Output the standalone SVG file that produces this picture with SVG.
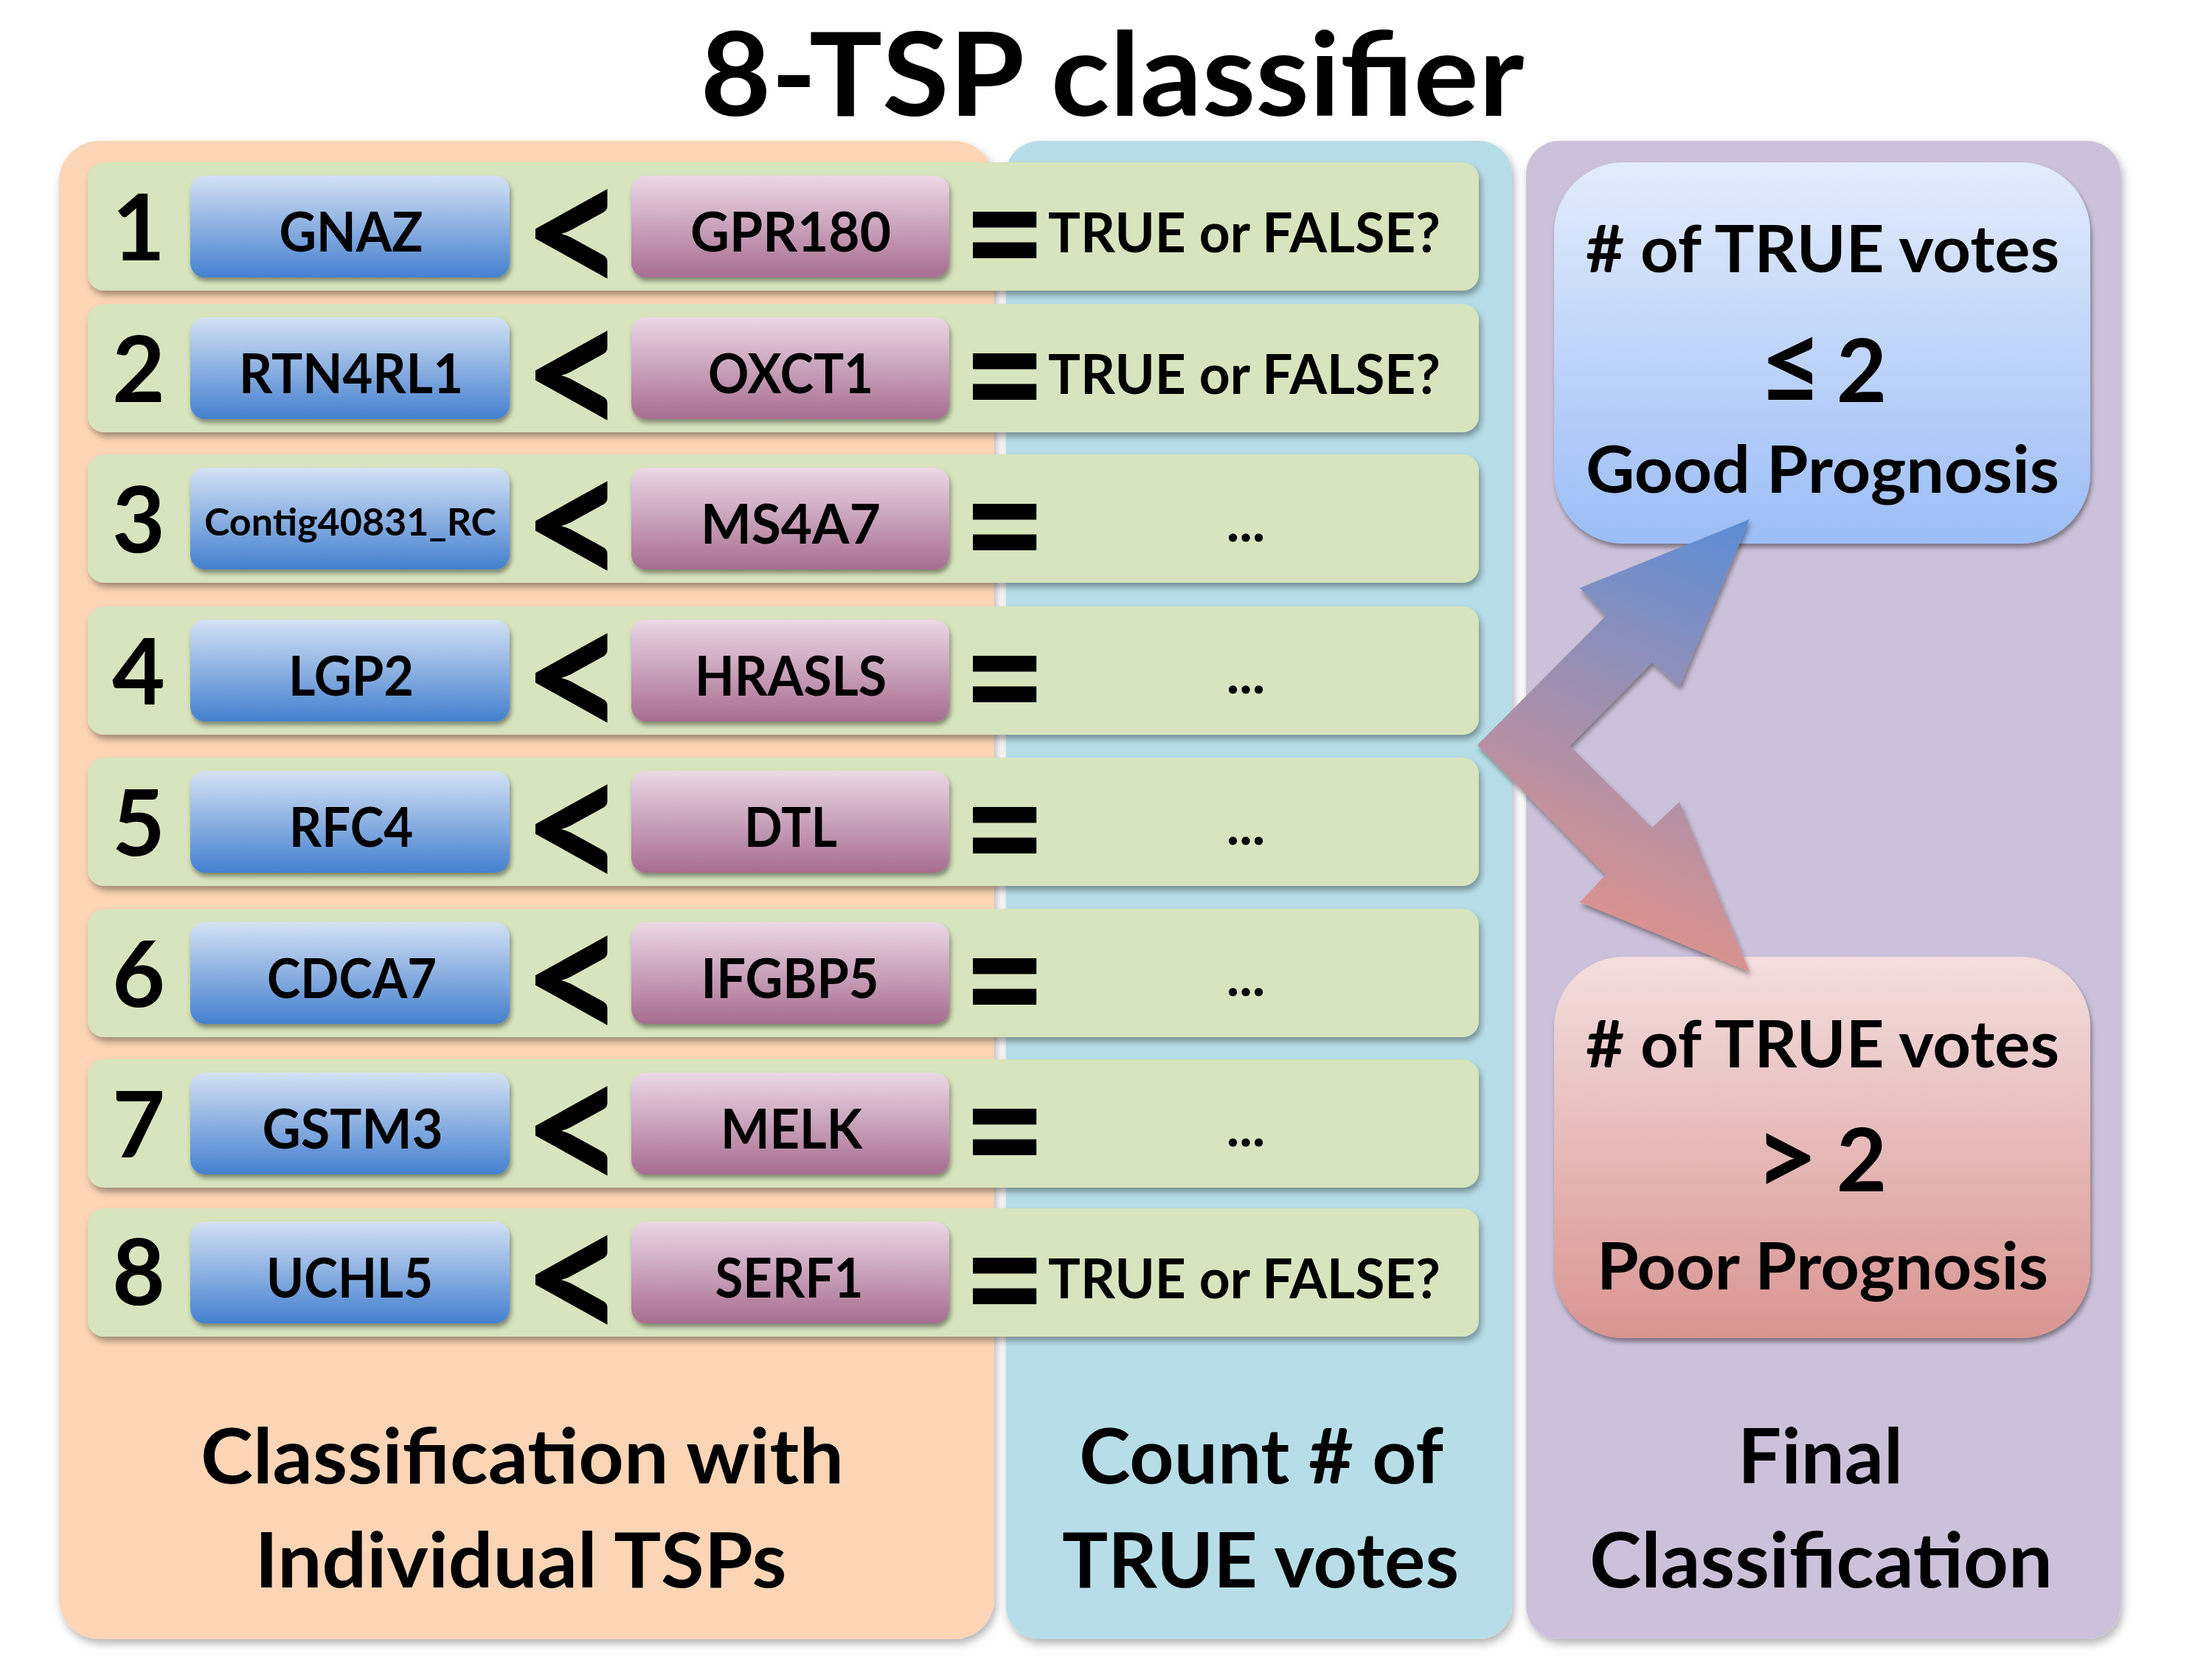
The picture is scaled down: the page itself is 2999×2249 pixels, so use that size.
<svg xmlns="http://www.w3.org/2000/svg" width="2999" height="2249" viewBox="0 0 2999 2249">
<defs>
<style>
.t{font-family:Lato,"Liberation Sans","DejaVu Sans",sans-serif;font-weight:700;fill:#000;text-anchor:middle}
.num{font-size:124px}
.gene{font-size:74px}
.res{font-size:74px}
.lt{font-size:200px}
.eq{font-size:180px}
.box{font-size:88px}
.big{font-size:118px}
.sym{font-size:150px}
.lab{font-size:103px}
.row{fill:#D7E4BD;filter:url(#sh)}
.gb{fill:url(#gBlue);filter:url(#sh2)}
.gp{fill:url(#gPur);filter:url(#sh2)}
</style>
<linearGradient id="gBlue" x1="0" y1="0" x2="0" y2="1">
<stop offset="0" stop-color="#D4E1F4"/><stop offset="1" stop-color="#4480CF"/>
</linearGradient>
<linearGradient id="gPur" x1="0" y1="0" x2="0" y2="1">
<stop offset="0" stop-color="#EBD8E4"/><stop offset="1" stop-color="#A76D90"/>
</linearGradient>
<linearGradient id="gGood" x1="0" y1="0" x2="0" y2="1">
<stop offset="0" stop-color="#E3ECFC"/><stop offset="1" stop-color="#9CBDF6"/>
</linearGradient>
<linearGradient id="gPoor" x1="0" y1="0" x2="0" y2="1">
<stop offset="0" stop-color="#F3DEDE"/><stop offset="1" stop-color="#D99592"/>
</linearGradient>
<linearGradient id="gArrow" gradientUnits="userSpaceOnUse" x1="2150" y1="1235" x2="2372" y2="704">
<stop offset="0" stop-color="#DA928F"/><stop offset="1" stop-color="#5A8DD6"/>
</linearGradient>
<filter id="sh" x="-5%" y="-10%" width="110%" height="130%">
<feDropShadow dx="3" dy="6" stdDeviation="4" flood-color="#000" flood-opacity="0.35"/>
</filter>
<filter id="sh2" x="-5%" y="-10%" width="115%" height="130%">
<feDropShadow dx="2" dy="5" stdDeviation="3" flood-color="#000" flood-opacity="0.4"/>
</filter>
<filter id="shp" x="-5%" y="-5%" width="110%" height="110%">
<feDropShadow dx="3" dy="6" stdDeviation="6" flood-color="#000" flood-opacity="0.3"/>
</filter>
</defs>
<rect width="2999" height="2249" fill="#fff"/>
<text class="t" x="1508" y="157" font-size="158" textLength="1117" lengthAdjust="spacingAndGlyphs">8-TSP classifier</text>

<g id="panel-tsp">
<rect x="80" y="191" width="1268" height="2031" rx="55" fill="#FBD5B5" filter="url(#shp)"/>
<text class="t lab" x="708" y="2011" textLength="872" lengthAdjust="spacingAndGlyphs">Classification with</text>
<text class="t lab" x="706" y="2152" textLength="721" lengthAdjust="spacingAndGlyphs">Individual TSPs</text>
</g>
<g id="panel-count">
<rect x="1364" y="191" width="686" height="2031" rx="45" fill="#B7DEE8" filter="url(#shp)"/>
<text class="t lab" x="1710" y="2011" textLength="494" lengthAdjust="spacingAndGlyphs">Count # of</text>
<text class="t lab" x="1709" y="2152" textLength="538" lengthAdjust="spacingAndGlyphs">TRUE votes</text>
</g>
<g id="panel-final">
<rect x="2069" y="191" width="806" height="2031" rx="45" fill="#CCC1DA" filter="url(#shp)"/>
<text class="t lab" x="2468" y="2011" textLength="224" lengthAdjust="spacingAndGlyphs">Final</text>
<text class="t lab" x="2469" y="2152" textLength="628" lengthAdjust="spacingAndGlyphs">Classification</text>
</g>

<g id="tsp1">
<rect class="row" x="119" y="220" width="1886" height="174" rx="22"/>
<text class="t num" x="188" y="353">1</text>
<rect class="gb" x="258" y="238" width="433" height="138" rx="20"/>
<text class="t gene" x="476" y="341" textLength="195" lengthAdjust="spacingAndGlyphs">GNAZ</text>
<text class="t lt" transform="translate(775,320) scale(1.23,1.31)" x="3" y="65">&lt;</text>
<rect class="gp" x="856" y="238" width="431" height="138" rx="20"/>
<text class="t gene" x="1072" y="341" textLength="272" lengthAdjust="spacingAndGlyphs">GPR180</text>
<text class="t eq" transform="translate(1361,316) scale(1.08,1.3)" x="1" y="62">=</text>
<text class="t res" x="1687" y="342" textLength="532" lengthAdjust="spacingAndGlyphs">TRUE or FALSE?</text>
</g>
<g id="tsp2">
<rect class="row" x="119" y="412" width="1886" height="174" rx="22"/>
<text class="t num" x="188" y="545">2</text>
<rect class="gb" x="258" y="430" width="433" height="138" rx="20"/>
<text class="t gene" x="476" y="533" textLength="304" lengthAdjust="spacingAndGlyphs">RTN4RL1</text>
<text class="t lt" transform="translate(775,512) scale(1.23,1.31)" x="3" y="65">&lt;</text>
<rect class="gp" x="856" y="430" width="431" height="138" rx="20"/>
<text class="t gene" x="1072" y="533" textLength="224" lengthAdjust="spacingAndGlyphs">OXCT1</text>
<text class="t eq" transform="translate(1361,508) scale(1.08,1.3)" x="1" y="62">=</text>
<text class="t res" x="1687" y="534" textLength="532" lengthAdjust="spacingAndGlyphs">TRUE or FALSE?</text>
</g>
<g id="tsp3">
<rect class="row" x="119" y="616" width="1886" height="174" rx="22"/>
<text class="t num" x="188" y="749">3</text>
<rect class="gb" x="258" y="634" width="433" height="138" rx="20"/>
<text class="t" x="475" y="726" font-size="52" textLength="396" lengthAdjust="spacingAndGlyphs">Contig40831_RC</text>
<text class="t lt" transform="translate(775,716) scale(1.23,1.31)" x="3" y="65">&lt;</text>
<rect class="gp" x="856" y="634" width="431" height="138" rx="20"/>
<text class="t gene" x="1072" y="737" textLength="244" lengthAdjust="spacingAndGlyphs">MS4A7</text>
<text class="t eq" transform="translate(1361,712) scale(1.08,1.3)" x="1" y="62">=</text>
<text class="t res" x="1689" y="734">...</text>
</g>
<g id="tsp4">
<rect class="row" x="119" y="822" width="1886" height="174" rx="22"/>
<text class="t num" x="188" y="955">4</text>
<rect class="gb" x="258" y="840" width="433" height="138" rx="20"/>
<text class="t gene" x="476" y="943" textLength="170" lengthAdjust="spacingAndGlyphs">LGP2</text>
<text class="t lt" transform="translate(775,922) scale(1.23,1.31)" x="3" y="65">&lt;</text>
<rect class="gp" x="856" y="840" width="431" height="138" rx="20"/>
<text class="t gene" x="1072" y="943" textLength="260" lengthAdjust="spacingAndGlyphs">HRASLS</text>
<text class="t eq" transform="translate(1361,918) scale(1.08,1.3)" x="1" y="62">=</text>
<text class="t res" x="1689" y="940">...</text>
</g>
<g id="tsp5">
<rect class="row" x="119" y="1027" width="1886" height="174" rx="22"/>
<text class="t num" x="188" y="1160">5</text>
<rect class="gb" x="258" y="1045" width="433" height="138" rx="20"/>
<text class="t gene" x="476" y="1148" textLength="168" lengthAdjust="spacingAndGlyphs">RFC4</text>
<text class="t lt" transform="translate(775,1127) scale(1.23,1.31)" x="3" y="65">&lt;</text>
<rect class="gp" x="856" y="1045" width="431" height="138" rx="20"/>
<text class="t gene" x="1072" y="1148" textLength="126" lengthAdjust="spacingAndGlyphs">DTL</text>
<text class="t eq" transform="translate(1361,1123) scale(1.08,1.3)" x="1" y="62">=</text>
<text class="t res" x="1689" y="1145">...</text>
</g>
<g id="tsp6">
<rect class="row" x="119" y="1232" width="1886" height="174" rx="22"/>
<text class="t num" x="188" y="1365">6</text>
<rect class="gb" x="258" y="1250" width="433" height="138" rx="20"/>
<text class="t gene" x="477" y="1353" textLength="230" lengthAdjust="spacingAndGlyphs">CDCA7</text>
<text class="t lt" transform="translate(775,1332) scale(1.23,1.31)" x="3" y="65">&lt;</text>
<rect class="gp" x="856" y="1250" width="431" height="138" rx="20"/>
<text class="t gene" x="1071" y="1353" textLength="241" lengthAdjust="spacingAndGlyphs">IFGBP5</text>
<text class="t eq" transform="translate(1361,1328) scale(1.08,1.3)" x="1" y="62">=</text>
<text class="t res" x="1689" y="1350">...</text>
</g>
<g id="tsp7">
<rect class="row" x="119" y="1436" width="1886" height="174" rx="22"/>
<text class="t num" x="188" y="1569">7</text>
<rect class="gb" x="258" y="1454" width="433" height="138" rx="20"/>
<text class="t gene" x="478" y="1557" textLength="245" lengthAdjust="spacingAndGlyphs">GSTM3</text>
<text class="t lt" transform="translate(775,1536) scale(1.23,1.31)" x="3" y="65">&lt;</text>
<rect class="gp" x="856" y="1454" width="431" height="138" rx="20"/>
<text class="t gene" x="1073" y="1557" textLength="192" lengthAdjust="spacingAndGlyphs">MELK</text>
<text class="t eq" transform="translate(1361,1532) scale(1.08,1.3)" x="1" y="62">=</text>
<text class="t res" x="1689" y="1554">...</text>
</g>
<g id="tsp8">
<rect class="row" x="119" y="1638" width="1886" height="174" rx="22"/>
<text class="t num" x="188" y="1769">8</text>
<rect class="gb" x="258" y="1656" width="433" height="138" rx="20"/>
<text class="t gene" x="474" y="1759" textLength="226" lengthAdjust="spacingAndGlyphs">UCHL5</text>
<text class="t lt" transform="translate(775,1738) scale(1.23,1.31)" x="3" y="65">&lt;</text>
<rect class="gp" x="856" y="1656" width="431" height="138" rx="20"/>
<text class="t gene" x="1070" y="1759" textLength="201" lengthAdjust="spacingAndGlyphs">SERF1</text>
<text class="t eq" transform="translate(1361,1734) scale(1.08,1.3)" x="1" y="62">=</text>
<text class="t res" x="1687" y="1760" textLength="532" lengthAdjust="spacingAndGlyphs">TRUE or FALSE?</text>
</g>

<g id="good">
<rect x="2107" y="220" width="727" height="517" rx="95" fill="url(#gGood)" filter="url(#sh2)"/>
<text class="t box" x="2471" y="369" textLength="642" lengthAdjust="spacingAndGlyphs"># of TRUE votes</text>
<text class="t big" y="545"><tspan class="sym" x="2428" y="548">≤</tspan><tspan x="2524" y="545">2</tspan></text>
<text class="t box" x="2471" y="668" textLength="642" lengthAdjust="spacingAndGlyphs">Good Prognosis</text>
</g>
<g id="poor">
<rect x="2107" y="1297" width="727" height="517" rx="95" fill="url(#gPoor)" filter="url(#sh2)"/>
<text class="t box" x="2471" y="1447" textLength="642" lengthAdjust="spacingAndGlyphs"># of TRUE votes</text>
<text class="t big" y="1615"><tspan class="sym" x="2422" y="1621">&gt;</tspan><tspan x="2524" y="1615">2</tspan></text>
<text class="t box" x="2471" y="1748" textLength="612" lengthAdjust="spacingAndGlyphs">Poor Prognosis</text>
</g>

<g id="connectors">
<polygon points="2372,704 2277,931 2240,898 2128,1011 2240,1122 2277,1087 2372,1317 2142,1223 2177,1186 2003,1010 2177,835 2142,797" fill="url(#gArrow)" filter="url(#sh2)"/>
</g>
</svg>
